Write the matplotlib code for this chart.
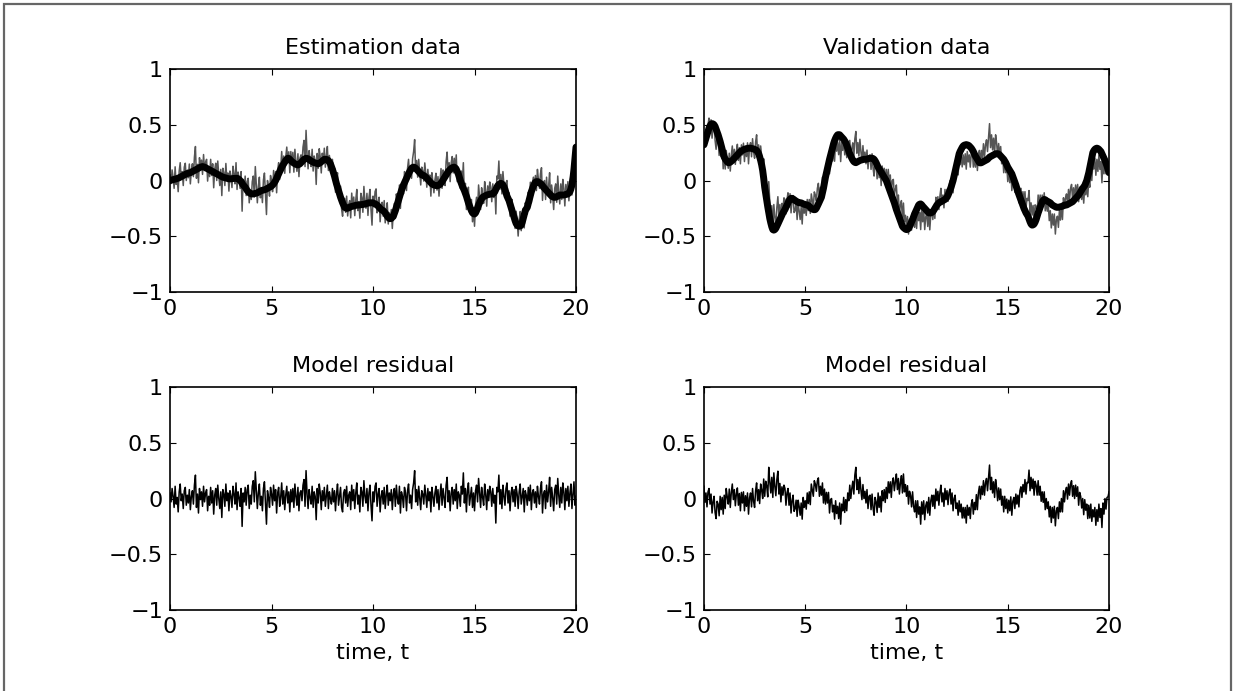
import numpy as np
import matplotlib
matplotlib.use("Agg")
import matplotlib.pyplot as plt
from matplotlib.patches import Rectangle

# ---------------------------------------------------------------------
# Values read off the reference, sampled every 0.05 s from t = 0 to 20
# (one row per second, last value is t = 20)
# ---------------------------------------------------------------------

t_start, t_stop = 0.0, 20.0

# smooth model output, estimation set
model_est = [
    0.00, 0.003, 0.005, 0.008, 0.01, 0.013, 0.015, 0.018, 0.02, 0.025, 0.03, 0.035, 0.04, 0.045, 0.05, 0.055, 0.06, 0.063, 0.065, 0.068,
    0.07, 0.075, 0.08, 0.085, 0.09, 0.095, 0.10, 0.105, 0.11, 0.115, 0.12, 0.123, 0.125, 0.123, 0.12, 0.115, 0.11, 0.105, 0.10, 0.095,
    0.09, 0.085, 0.08, 0.075, 0.07, 0.065, 0.06, 0.055, 0.05, 0.045, 0.04, 0.035, 0.03, 0.028, 0.025, 0.023, 0.02, 0.018, 0.015, 0.015,
    0.015, 0.017, 0.018, 0.019, 0.02, 0.02, 0.02, 0.016, 0.01, 0.0, -0.01, -0.025, -0.04, -0.05, -0.06, -0.075, -0.09, -0.10, -0.11, -0.115,
    -0.12, -0.12, -0.12, -0.118, -0.115, -0.113, -0.11, -0.105, -0.10, -0.095, -0.09, -0.088, -0.085, -0.083, -0.08, -0.075, -0.07, -0.065, -0.06, -0.055,
    -0.05, -0.04, -0.03, -0.015, 0.00, 0.02, 0.04, 0.06, 0.08, 0.10, 0.12, 0.135, 0.15, 0.165, 0.18, 0.19, 0.20, 0.198, 0.19, 0.18,
    0.17, 0.163, 0.155, 0.15, 0.145, 0.142, 0.14, 0.145, 0.15, 0.16, 0.17, 0.18, 0.19, 0.195, 0.20, 0.198, 0.195, 0.188, 0.18, 0.175,
    0.17, 0.165, 0.16, 0.158, 0.155, 0.153, 0.15, 0.155, 0.16, 0.168, 0.175, 0.183, 0.19, 0.19, 0.19, 0.185, 0.18, 0.165, 0.15, 0.125,
    0.10, 0.07, 0.04, 0.005, -0.03, -0.06, -0.09, -0.12, -0.15, -0.175, -0.20, -0.22, -0.24, -0.245, -0.25, -0.248, -0.245, -0.24, -0.235, -0.233,
    -0.23, -0.228, -0.225, -0.223, -0.22, -0.22, -0.22, -0.218, -0.215, -0.215, -0.215, -0.213, -0.21, -0.208, -0.205, -0.203, -0.20, -0.20, -0.20, -0.20,
    -0.20, -0.205, -0.21, -0.215, -0.22, -0.23, -0.24, -0.25, -0.26, -0.265, -0.27, -0.28, -0.29, -0.305, -0.32, -0.33, -0.34, -0.342, -0.34, -0.33,
    -0.32, -0.295, -0.27, -0.24, -0.21, -0.18, -0.15, -0.12, -0.09, -0.065, -0.04, -0.02, 0.00, 0.02, 0.04, 0.06, 0.08, 0.095, 0.11, 0.117,
    0.12, 0.117, 0.11, 0.10, 0.09, 0.08, 0.07, 0.06, 0.05, 0.047, 0.045, 0.038, 0.03, 0.02, 0.01, 0.0, -0.01, -0.02, -0.03, -0.035,
    -0.04, -0.043, -0.045, -0.046, -0.045, -0.04, -0.035, -0.023, -0.01, 0.005, 0.02, 0.035, 0.05, 0.065, 0.08, 0.09, 0.10, 0.108, 0.115, 0.118,
    0.12, 0.113, 0.10, 0.08, 0.06, 0.03, 0.00, -0.025, -0.05, -0.07, -0.09, -0.115, -0.14, -0.17, -0.20, -0.225, -0.25, -0.27, -0.29, -0.297,
    -0.30, -0.29, -0.27, -0.245, -0.22, -0.20, -0.18, -0.165, -0.15, -0.145, -0.14, -0.135, -0.13, -0.128, -0.125, -0.123, -0.12, -0.12, -0.12, -0.112,
    -0.10, -0.08, -0.06, -0.045, -0.035, -0.028, -0.025, -0.03, -0.04, -0.058, -0.08, -0.11, -0.14, -0.16, -0.18, -0.21, -0.24, -0.27, -0.30, -0.33,
    -0.36, -0.385, -0.40, -0.408, -0.41, -0.408, -0.40, -0.375, -0.34, -0.305, -0.27, -0.255, -0.24, -0.205, -0.17, -0.135, -0.10, -0.075, -0.05, -0.03,
    -0.015, -0.01, -0.01, -0.013, -0.02, -0.027, -0.035, -0.048, -0.06, -0.07, -0.08, -0.09, -0.10, -0.11, -0.12, -0.13, -0.14, -0.145, -0.15, -0.15,
    -0.15, -0.145, -0.14, -0.135, -0.13, -0.13, -0.13, -0.13, -0.13, -0.128, -0.125, -0.123, -0.12, -0.112, -0.10, -0.075, -0.04, 0.02, 0.10, 0.20,
    0.30,
]

# smooth model output, validation set
model_val = [
    0.32, 0.35, 0.38, 0.41, 0.44, 0.47, 0.49, 0.505, 0.51, 0.508, 0.50, 0.485, 0.46, 0.435, 0.41, 0.38, 0.35, 0.315, 0.28, 0.245,
    0.21, 0.193, 0.18, 0.168, 0.16, 0.16, 0.165, 0.172, 0.18, 0.19, 0.20, 0.21, 0.22, 0.23, 0.24, 0.25, 0.26, 0.265, 0.27, 0.275,
    0.28, 0.283, 0.285, 0.288, 0.29, 0.29, 0.29, 0.288, 0.285, 0.283, 0.28, 0.276, 0.27, 0.258, 0.24, 0.213, 0.18, 0.14, 0.09, 0.02,
    -0.06, -0.12, -0.18, -0.235, -0.29, -0.34, -0.38, -0.415, -0.44, -0.445, -0.44, -0.428, -0.41, -0.39, -0.37, -0.35, -0.33, -0.31, -0.29, -0.275,
    -0.26, -0.24, -0.22, -0.20, -0.18, -0.168, -0.16, -0.16, -0.165, -0.172, -0.18, -0.185, -0.19, -0.195, -0.20, -0.20, -0.20, -0.205, -0.21, -0.213,
    -0.215, -0.218, -0.22, -0.225, -0.23, -0.24, -0.25, -0.256, -0.26, -0.262, -0.26, -0.248, -0.23, -0.21, -0.19, -0.17, -0.15, -0.11, -0.07, -0.02,
    0.03, 0.07, 0.11, 0.15, 0.19, 0.225, 0.26, 0.295, 0.33, 0.358, 0.38, 0.398, 0.41, 0.412, 0.41, 0.40, 0.39, 0.38, 0.37, 0.355,
    0.34, 0.315, 0.29, 0.265, 0.24, 0.22, 0.20, 0.183, 0.17, 0.163, 0.16, 0.165, 0.17, 0.175, 0.18, 0.183, 0.185, 0.188, 0.19, 0.19,
    0.19, 0.193, 0.195, 0.198, 0.20, 0.20, 0.20, 0.197, 0.19, 0.177, 0.16, 0.14, 0.12, 0.105, 0.09, 0.075, 0.06, 0.045, 0.03, 0.015,
    0.0, -0.025, -0.05, -0.075, -0.10, -0.125, -0.15, -0.175, -0.20, -0.23, -0.26, -0.285, -0.31, -0.335, -0.36, -0.385, -0.41, -0.422, -0.43, -0.437,
    -0.44, -0.438, -0.43, -0.412, -0.39, -0.37, -0.35, -0.325, -0.30, -0.28, -0.26, -0.238, -0.22, -0.212, -0.21, -0.218, -0.23, -0.24, -0.25, -0.26,
    -0.27, -0.282, -0.29, -0.292, -0.29, -0.286, -0.28, -0.266, -0.25, -0.235, -0.22, -0.21, -0.20, -0.195, -0.19, -0.185, -0.18, -0.175, -0.17, -0.16,
    -0.15, -0.132, -0.11, -0.085, -0.06, -0.03, 0.0, 0.04, 0.08, 0.12, 0.16, 0.20, 0.24, 0.262, 0.28, 0.297, 0.31, 0.317, 0.32, 0.322,
    0.32, 0.317, 0.31, 0.30, 0.29, 0.276, 0.26, 0.24, 0.22, 0.205, 0.19, 0.175, 0.16, 0.158, 0.16, 0.165, 0.17, 0.175, 0.18, 0.185,
    0.19, 0.20, 0.21, 0.215, 0.22, 0.225, 0.23, 0.235, 0.24, 0.241, 0.24, 0.237, 0.23, 0.22, 0.21, 0.20, 0.19, 0.175, 0.16, 0.14,
    0.12, 0.105, 0.09, 0.075, 0.06, 0.035, 0.01, -0.015, -0.04, -0.07, -0.10, -0.125, -0.15, -0.175, -0.20, -0.225, -0.25, -0.27, -0.29, -0.305,
    -0.32, -0.345, -0.37, -0.39, -0.40, -0.398, -0.39, -0.373, -0.35, -0.32, -0.29, -0.265, -0.24, -0.215, -0.19, -0.178, -0.17, -0.172, -0.18, -0.185,
    -0.19, -0.195, -0.20, -0.21, -0.22, -0.225, -0.23, -0.235, -0.24, -0.24, -0.24, -0.238, -0.235, -0.233, -0.23, -0.225, -0.22, -0.22, -0.22, -0.215,
    -0.21, -0.205, -0.20, -0.195, -0.19, -0.18, -0.17, -0.16, -0.15, -0.14, -0.13, -0.115, -0.10, -0.085, -0.07, -0.058, -0.045, -0.023, 0.0, 0.035,
    0.07, 0.115, 0.16, 0.205, 0.25, 0.268, 0.28, 0.287, 0.29, 0.287, 0.28, 0.27, 0.26, 0.24, 0.22, 0.20, 0.18, 0.155, 0.13, 0.10,
    0.07,
]

# residual (data - model), estimation set
resid_est = [
    0.05, -0.03, 0.09, 0.02, -0.08, 0.11, -0.05, 0.01, -0.12, 0.06, 0.13, -0.02, 0.04, -0.09, 0.07, 0.10, -0.06, 0.03, -0.04, 0.08,
    -0.10, 0.02, 0.07, -0.05, 0.12, 0.21, -0.08, 0.04, -0.13, 0.09, -0.01, 0.06, -0.07, 0.11, -0.03, 0.05, 0.08, -0.11, 0.02, -0.06,
    0.10, -0.04, 0.07, -0.14, 0.03, 0.09, -0.06, 0.12, 0.00, -0.09, 0.06, -0.17, 0.08, 0.04, -0.07, 0.13, -0.02, 0.05, -0.11, 0.07,
    0.02, -0.08, 0.11, 0.04, -0.05, 0.14, -0.10, 0.06, 0.01, -0.07, 0.09, -0.25, 0.05, -0.03, 0.10, -0.06, 0.08, 0.12, -0.09, 0.03,
    -0.05, 0.11, 0.16, -0.03, 0.24, 0.07, -0.09, 0.05, 0.13, -0.06, 0.02, -0.11, 0.09, 0.15, -0.04, -0.23, 0.07, 0.01, -0.08, 0.10,
    0.04, -0.06, 0.12, -0.02, 0.08, -0.13, 0.05, 0.10, -0.07, 0.01, 0.14, -0.05, 0.07, -0.10, 0.03, 0.11, -0.04, 0.06, -0.12, 0.08,
    -0.03, 0.09, -0.08, 0.13, 0.02, -0.06, 0.10, -0.11, 0.05, 0.07, -0.02, 0.12, 0.17, -0.07, 0.25, 0.04, -0.09, 0.08, 0.01, -0.05,
    0.11, -0.08, 0.06, 0.02, -0.19, 0.09, -0.04, 0.13, 0.05, -0.10, 0.07, -0.02, 0.10, -0.07, 0.03, 0.12, -0.09, 0.06, 0.00, -0.05,
    0.09, -0.03, 0.07, -0.11, 0.04, 0.13, -0.06, 0.02, 0.10, -0.08, -0.12, 0.05, 0.08, -0.04, 0.11, -0.07, 0.03, 0.06, -0.10, 0.12,
    -0.02, 0.08, -0.09, 0.05, 0.14, -0.05, 0.03, -0.12, 0.10, 0.06, -0.07, 0.16, 0.02, -0.04, 0.09, -0.11, 0.05, 0.12, -0.06, -0.20,
    0.06, -0.03, 0.11, 0.14, -0.07, 0.04, 0.09, -0.12, 0.02, 0.07, -0.05, 0.10, -0.09, 0.03, 0.12, -0.06, 0.05, -0.02, 0.08, -0.10,
    0.04, 0.09, -0.07, 0.12, 0.00, -0.05, 0.11, -0.13, 0.06, 0.02, -0.08, 0.10, 0.05, -0.11, 0.07, 0.13, -0.04, 0.03, -0.09, 0.08,
    0.14, 0.25, -0.03, 0.08, -0.06, 0.11, 0.01, -0.10, 0.07, 0.04, -0.05, 0.12, 0.03, -0.08, 0.09, -0.02, 0.06, -0.12, 0.10, 0.02,
    -0.07, 0.05, 0.11, -0.04, 0.08, -0.10, 0.03, 0.13, -0.06, 0.09, 0.01, -0.08, 0.12, 0.19, -0.03, 0.07, -0.11, 0.05, 0.10, -0.05,
    0.08, -0.02, 0.13, -0.09, 0.06, 0.03, -0.07, 0.11, 0.04, 0.23, -0.04, 0.09, -0.12, 0.07, 0.14, -0.06, 0.02, 0.10, -0.08, 0.05,
    -0.11, 0.07, 0.12, -0.03, 0.18, 0.05, -0.08, 0.10, 0.01, -0.06, 0.13, 0.04, -0.10, 0.08, -0.02, 0.11, 0.06, -0.07, 0.09, -0.04,
    0.03, -0.22, 0.10, 0.06, 0.21, -0.05, 0.08, -0.09, 0.12, 0.02, -0.06, 0.09, 0.14, -0.04, 0.07, -0.11, 0.05, 0.10, -0.03, 0.08,
    -0.07, 0.11, 0.04, -0.09, 0.06, 0.13, -0.05, 0.02, 0.09, -0.12, 0.07, 0.03, -0.06, 0.10, -0.02, 0.12, -0.10, 0.05, 0.08, -0.04,
    0.06, -0.08, 0.11, 0.02, -0.05, 0.09, 0.15, -0.13, 0.04, 0.07, -0.09, 0.12, -0.03, 0.06, 0.19, -0.07, 0.10, 0.01, -0.11, 0.08,
    0.12, -0.05, 0.18, 0.03, -0.08, 0.10, -0.04, 0.14, 0.06, -0.10, 0.09, -0.02, 0.11, -0.07, 0.05, 0.13, -0.09, 0.04, 0.15, -0.06,
    0.02,
]

# residual (data - model), validation set
resid_val = [
    0.11, -0.035, 0.05, -0.075, 0.06, 0.09, -0.05, 0.04, -0.13, -0.03, 0.02, -0.125, -0.18, -0.025, -0.05, -0.155, 0.02, -0.10, 0.01, -0.14,
    0.03, -0.09, 0.09, 0.015, -0.05, 0.085, -0.08, 0.055, 0.13, -0.01, 0.08, -0.065, 0.04, 0.095, -0.06, 0.045, -0.11, 0.055, -0.04, 0.06,
    -0.11, 0.025, -0.07, 0.05, -0.14, 0.005, 0.05, -0.075, 0.09, -0.025, -0.08, 0.07, 0.14, -0.02, 0.08, -0.045, 0.13, 0.075, 0.0, 0.175,
    0.02, 0.155, 0.11, 0.015, 0.28, 0.15, 0.05, 0.19, 0.01, 0.23, 0.11, 0.025, 0.17, 0.245, 0.04, 0.135, -0.03, 0.105, 0.03, 0.12,
    0.09, -0.06, 0.05, 0.09, -0.06, 0.05, -0.13, -0.02, 0.03, -0.115, -0.09, -0.015, -0.16, -0.015, -0.07, -0.15, -0.04, -0.185, 0.01, -0.08,
    -0.02, -0.095, 0.05, -0.045, 0.06, -0.055, 0.13, 0.075, 0.02, 0.16, 0.13, 0.065, 0.16, 0.185, 0.02, 0.11, 0.03, 0.14, -0.04, 0.085,
    -0.05, 0.055, -0.04, 0.055, -0.13, -0.01, 0.0, -0.12, -0.06, -0.185, -0.02, -0.135, -0.07, -0.18, -0.04, -0.23, -0.05, -0.11, 0.01, -0.125,
    -0.01, -0.11, 0.05, -0.02, 0.12, 0.0, 0.09, 0.155, 0.04, 0.21, 0.28, 0.08, 0.17, 0.045, 0.19, 0.075, -0.01, 0.125, 0.0, 0.065,
    -0.04, 0.08, -0.09, 0.02, 0.03, -0.10, 0.04, -0.085, -0.15, 0.01, -0.03, -0.125, 0.05, -0.08, 0.02, -0.12, 0.07, -0.02, 0.08, -0.035,
    0.10, 0.0, 0.15, 0.05, 0.15, 0.01, 0.15, 0.185, 0.07, 0.15, 0.22, 0.08, 0.18, 0.04, 0.14, 0.205, 0.05, 0.22, 0.06, 0.125,
    0.02, 0.115, -0.05, 0.065, 0.03, -0.075, 0.06, -0.07, -0.12, -0.02, -0.17, -0.02, -0.14, -0.075, -0.23, -0.03, -0.14, -0.02, -0.19, -0.065,
    -0.03, -0.13, 0.01, -0.15, -0.02, 0.03, -0.07, 0.03, -0.09, 0.085, -0.02, 0.065, -0.06, 0.055, 0.12, -0.03, 0.05, -0.07, 0.09, -0.01,
    0.07, -0.055, 0.05, 0.085, -0.05, 0.05, -0.11, 0.0, 0.03, -0.09, -0.04, -0.15, -0.02, -0.12, -0.05, -0.175, -0.08, -0.175, -0.08, -0.22,
    -0.06, -0.15, -0.08, -0.18, -0.05, -0.01, -0.14, -0.035, -0.10, 0.035, -0.10, 0.05, 0.11, -0.005, 0.11, 0.035, 0.16, 0.03, 0.14, 0.18,
    0.07, 0.18, 0.30, 0.08, 0.19, 0.05, 0.15, 0.01, 0.17, 0.095, -0.02, 0.095, -0.01, 0.085, -0.06, 0.02, -0.12, 0.02, -0.09, -0.005,
    -0.13, -0.015, -0.11, 0.015, -0.15, -0.025, 0.01, -0.09, 0.04, -0.05, 0.03, -0.075, 0.07, 0.105, 0.01, 0.125, 0.06, 0.17, 0.04, 0.145,
    0.14, 0.255, 0.07, 0.19, 0.09, 0.175, 0.03, 0.155, 0.12, 0.03, 0.16, 0.03, 0.11, -0.025, 0.06, -0.035, 0.06, -0.10, 0.0, -0.09,
    -0.03, -0.165, -0.07, -0.215, -0.08, -0.175, -0.07, -0.245, -0.11, -0.08, -0.18, -0.03, -0.12, 0.0, -0.12, 0.07, -0.03, 0.065, 0.10, -0.005,
    0.13, 0.03, 0.13, 0.16, 0.02, 0.115, 0.0, 0.12, 0.02, 0.105, -0.06, 0.055, 0.02, -0.085, 0.0, -0.145, -0.01, -0.105, -0.05, -0.18,
    -0.06, -0.175, -0.05, -0.205, -0.10, -0.165, -0.08, -0.24, -0.10, -0.205, -0.05, -0.17, -0.09, -0.26, -0.04, -0.14, 0.0, -0.095, 0.01, 0.015,
    0.06,
]

x_ticks = [0, 5, 10, 15, 20]
y_ticks = [-1, -0.5, 0, 0.5, 1]
y_tick_labels = ["\u22121", "\u22120.5", "0", "0.5", "1"]

titles = ["Estimation data", "Validation data", "Model residual", "Model residual"]
x_label = "time, t"

# ---------------------------------------------------------------------

plt.rcParams["font.family"] = ["DejaVu Sans"]

model_est = np.array(model_est)
model_val = np.array(model_val)
resid_est = np.array(resid_est)
resid_val = np.array(resid_val)

t_est = np.linspace(t_start, t_stop, len(model_est))
t_val = np.linspace(t_start, t_stop, len(model_val))

# measured data = model output + residual
data_est = model_est + resid_est
data_val = model_val + resid_val

fig = plt.figure(figsize=(12.35, 6.91), dpi=100)

# thin frame around the whole figure
fig.patches.append(Rectangle((0.0032, -0.02), 0.9936, 1.0142, transform=fig.transFigure,
                             fill=False, edgecolor="#666666", linewidth=1.6))

positions = [
    [0.1377, 0.5774, 0.3287, 0.3227],
    [0.5700, 0.5774, 0.3280, 0.3227],
    [0.1377, 0.1172, 0.3287, 0.3227],
    [0.5700, 0.1172, 0.3280, 0.3227],
]
axes = [fig.add_axes(p) for p in positions]


def style_axis(ax, title):
    ax.set_xlim(0, 20)
    ax.set_ylim(-1, 1)
    ax.set_xticks(x_ticks)
    ax.set_yticks(y_ticks)
    ax.set_yticklabels(y_tick_labels)
    ax.tick_params(direction="in", top=True, right=True, length=4, width=0.8,
                   labelsize=16, pad=5)
    for spine in ax.spines.values():
        spine.set_linewidth(1.2)
    ax.set_title(title, fontsize=16, pad=11)


axes[0].plot(t_est, data_est, color="#555555", linewidth=1.1)
axes[0].plot(t_est, model_est, color="black", linewidth=5, solid_capstyle="round")
axes[1].plot(t_val, data_val, color="#555555", linewidth=1.1)
axes[1].plot(t_val, model_val, color="black", linewidth=5, solid_capstyle="round")
axes[2].plot(t_est, resid_est, color="black", linewidth=1.1)
axes[3].plot(t_val, resid_val, color="black", linewidth=1.1)

for ax, title in zip(axes, titles):
    style_axis(ax, title)

axes[2].set_xlabel(x_label, fontsize=16, labelpad=4)
axes[3].set_xlabel(x_label, fontsize=16, labelpad=4)

fig.savefig("out.png", dpi=100, facecolor="white")
